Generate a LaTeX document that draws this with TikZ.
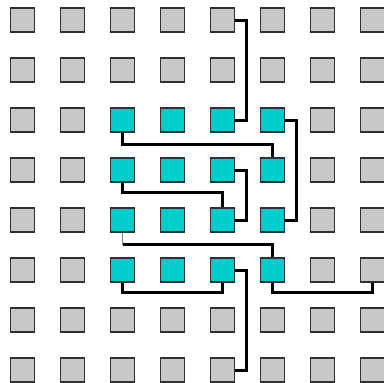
\documentclass[tikz,border=0pt]{standalone}
\usepackage{tikz}
\usetikzlibrary{calc}

\definecolor{cellgray}{HTML}{C8C8C8}
\definecolor{cellcyan}{HTML}{00CCCC}
\definecolor{celledge}{HTML}{303030}

\begin{document}
\begin{tikzpicture}[
  x=1pt, y=-1pt,
  cell/.style={draw=celledge, fill=cellgray, line width=1.3pt, minimum size=24pt, inner sep=0pt},
  cellon/.style={cell, fill=cellcyan},
  wire/.style={line width=3pt, line join=miter},
  stub/.style={line width=1pt, draw=gray},
]
\useasboundingbox (0,0) rectangle (384,383);

% grid of cells, centre block is cyan
\foreach \r in {0,...,7}{
  \foreach \c in {0,...,7}{
    \pgfmathsetmacro{\on}{(\r>1)*(\r<6)*(\c>1)*(\c<6)}
    \ifdim\on pt>0.5pt
      \node[cellon] (s-\r-\c) at (22.5+50*\c, 20+50*\r) {};
    \else
      \node[cell] (s-\r-\c) at (22.5+50*\c, 20+50*\r) {};
    \fi
  }
}

% wires
\draw[wire] (s-0-4.east) -- ++(11,0) |- (s-2-4.east);
\draw[wire] (s-2-5.east) -- ++(11,0) |- (s-4-5.east);
\draw[wire] (s-2-2.south) -- ++(0,12) -| (s-3-5.north);
\draw[wire] (s-3-4.east) -- ++(11,0) |- (s-4-4.east);
\draw[wire] (s-3-2.south) -- ++(0,10) -| (s-4-4.north);
\draw[stub] (s-4-2.south) -- ++(0,12) coordinate (k42);
\draw[wire] (k42) -| (s-5-5.north);
\draw[wire] (s-5-2.south) -- ++(0,10) -| (s-5-4.south);
\draw[wire] (s-5-4.east) -- ++(11,0) |- (s-7-4.east);
\draw[wire] (s-5-5.south) -- ++(0,10) -| (s-5-7.south);

\end{tikzpicture}
\end{document}
